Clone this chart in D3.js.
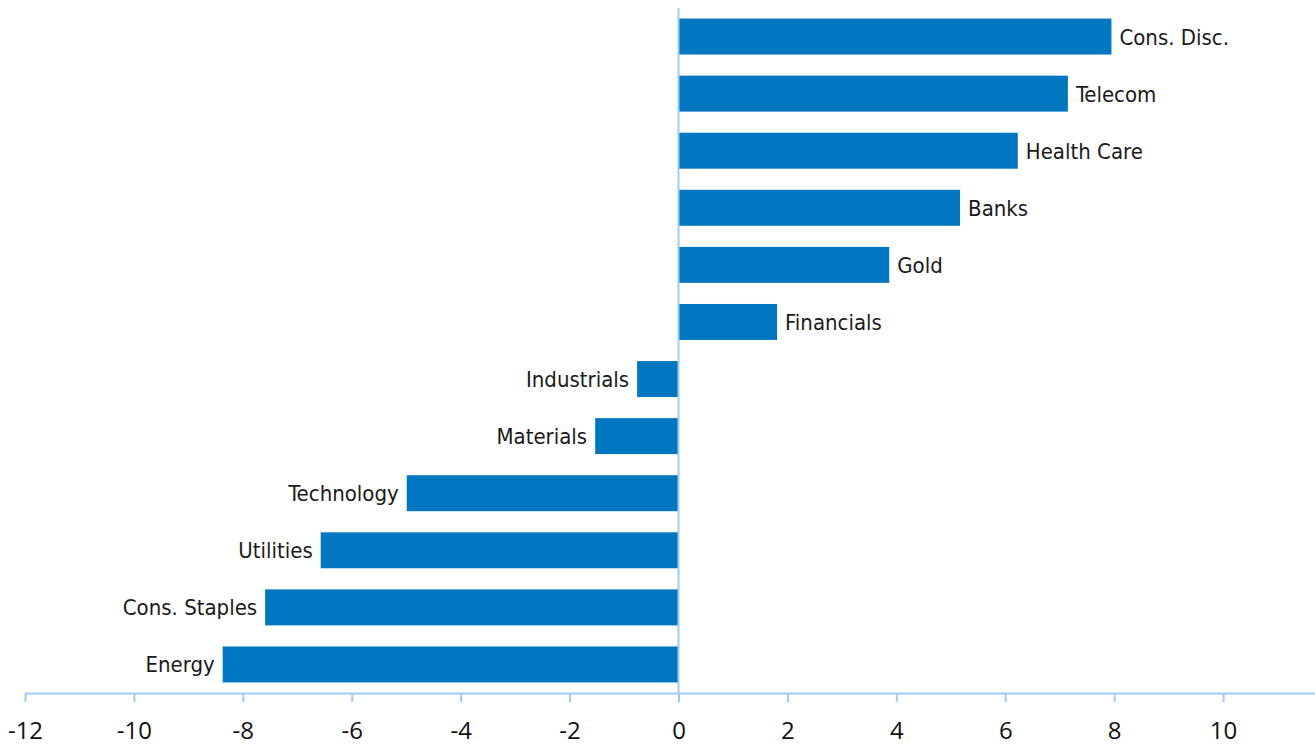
<!DOCTYPE html>
<html lang='en'>
	<head>
		<meta charset='utf-8'>
		<title>Sector bars</title>
		<script type='text/javascript' src='https://cdn.jsdelivr.net/npm/d3@7'></script>
		<style>
			body { margin: 0; background: #fff; }
		</style>
	</head>
	<body>
		<script type='text/javascript'>
			var sectors = ['Cons. Disc.', 'Telecom', 'Health Care', 'Banks', 'Gold', 'Financials',
				'Industrials', 'Materials', 'Technology', 'Utilities', 'Cons. Staples', 'Energy'];
			var values = [7.95, 7.15, 6.23, 5.17, 3.87, 1.81, -0.76, -1.53, -4.99, -6.57, -7.59, -8.37];
			var tick_values = [-12, -10, -8, -6, -4, -2, 0, 2, 4, 6, 8, 10];

			var width = 1315, height = 748;
			var svg = d3.select('body').append('svg').attr('width', width).attr('height', height);

			var x = d3.scaleLinear().domain([-12, 12]).range([25, 1332]);
			var y = d3.scaleBand().domain(sectors).range([8, 693]).paddingInner(0.37).paddingOuter(0.185);

			var axis_colour = '#9ecbf7', bar_colour = '#0077c0';
			var data = sectors.map((s, i) => ({name: s, value: values[i]}));

			// bars
			svg.selectAll('rect.bar').data(data).enter().append('rect')
				.attr('class', 'bar')
				.attr('x', d => x(Math.min(0, d.value)))
				.attr('y', d => y(d.name))
				.attr('width', d => Math.abs(x(d.value) - x(0)))
				.attr('height', y.bandwidth())
				.attr('fill', bar_colour);

			// category labels next to bar ends
			svg.selectAll('text.lab').data(data).enter().append('text')
				.attr('class', 'lab')
				.attr('x', d => d.value >= 0 ? x(d.value) + 8 : x(d.value) - 8)
				.attr('y', d => y(d.name) + y.bandwidth() / 2 + 8)
				.attr('text-anchor', d => d.value >= 0 ? 'start' : 'end')
				.attr('font-family', "'DejaVu Sans Condensed', 'Liberation Sans Narrow', sans-serif")
				.attr('font-size', 22)
				.attr('fill', '#1a1a1a')
				.text(d => d.name);

			// vertical zero line
			svg.append('line')
				.attr('x1', x(0)).attr('x2', x(0))
				.attr('y1', 8).attr('y2', 693)
				.attr('stroke', axis_colour).attr('stroke-width', 2);

			// bottom axis, plain hyphen for negatives like the original
			var xAxis = d3.axisBottom(x).tickValues(tick_values).tickSize(9).tickSizeOuter(0).tickPadding(20)
				.tickFormat(d => String(d));
			var g = svg.append('g').attr('transform', 'translate(0,693)').call(xAxis);
			g.select('.domain').attr('stroke', axis_colour).attr('stroke-width', 2);
			g.selectAll('.tick line').attr('stroke', axis_colour).attr('stroke-width', 2);
			g.selectAll('.tick text')
				.attr('font-family', "'Open Sans', 'Noto Sans', sans-serif")
				.attr('font-size', 24)
				.attr('fill', '#111');
		</script>
	</body>
</html>
